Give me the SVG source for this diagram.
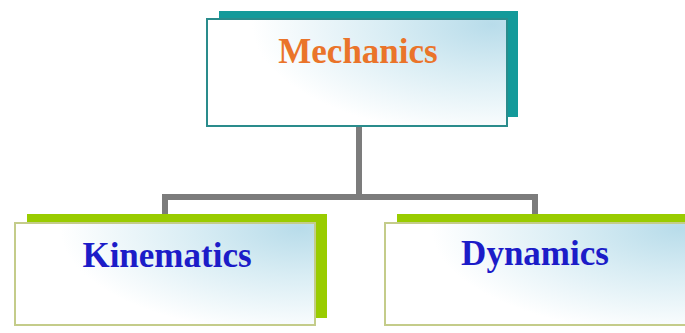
<svg xmlns="http://www.w3.org/2000/svg" width="685" height="333" viewBox="0 0 685 333">
<style>
.conn{fill:none;stroke:#7c7c7c;stroke-width:6}
.face{fill:url(#g)}
.teal{fill:#139a9a}
.green{fill:#99cc00}
.tface{stroke:#2a8c8c;stroke-width:2}
.gface{stroke:#c4cc8a;stroke-width:2}
.lbl{font-family:"Liberation Serif","Times New Roman",serif;font-weight:bold;font-size:35px;text-anchor:middle}
.o{fill:#ea742a}
.b{fill:#1c1cc8}
</style>
<defs>
<radialGradient id="g" cx="0.95" cy="0.05" r="0.8" gradientTransform="translate(0.95 0.05) scale(1 1.3) translate(-0.95 -0.05)">
<stop offset="0" stop-color="#b8dcea"/>
<stop offset="0.45" stop-color="#d9edf4"/>
<stop offset="1" stop-color="#ffffff"/>
</radialGradient>
</defs>
<rect width="685" height="333" fill="#ffffff"/>
<g id="connectors">
<path class="conn" d="M359 127 V197"/>
<path class="conn" d="M165 197 H535"/>
<path class="conn" d="M165 194 V216"/>
<path class="conn" d="M535 194 V216"/>
</g>
<g id="mechanics">
<rect class="teal" x="219" y="11" width="299" height="106"/>
<rect class="face tface" x="207" y="19" width="300" height="107"/>
<text class="lbl o" x="358" y="63">Mechanics</text>
</g>
<g id="kinematics">
<rect class="green" x="27" y="214" width="300" height="104"/>
<rect class="face gface" x="15" y="223" width="300" height="102"/>
<text class="lbl b" x="167" y="267">Kinematics</text>
</g>
<g id="dynamics">
<rect class="green" x="397" y="214" width="300" height="104"/>
<rect class="face gface" x="385" y="223" width="310" height="102"/>
<text class="lbl b" x="535" y="265">Dynamics</text>
</g>
</svg>
